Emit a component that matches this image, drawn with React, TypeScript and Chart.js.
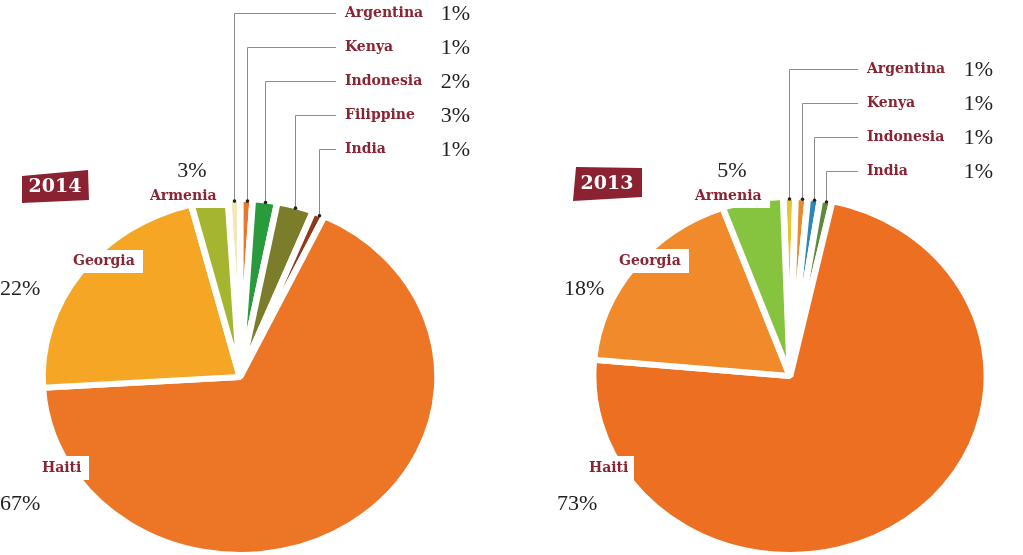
import React, { useEffect, useRef } from 'react';
import { Chart, registerables } from 'chart.js';

Chart.register(...registerables);

// ---------- data ----------
const labels2014 = ['Argentina', 'Kenya', 'Indonesia', 'Filippine', 'India', 'Haiti', 'Georgia', 'Armenia'];
const values2014 = [1, 1, 2, 3, 1, 67, 22, 3];
const colors2014 = ['#f6e6b6', '#e8782c', '#2a9b3c', '#7b7d2a', '#8e3a1c', '#ec7526', '#f5a624', '#a6b52f'];

const labels2013 = ['Argentina', 'Kenya', 'Indonesia', 'India', 'Haiti', 'Georgia', 'Armenia'];
const values2013 = [1, 1, 1, 1, 73, 18, 5];
const colors2013 = ['#e6c62e', '#e98a2e', '#2b88b9', '#5f8a3b', '#ec6f22', '#f18a2b', '#86c440'];

const years = ['2014', '2013'];

// ---------- layout ----------
const W = 1023;
const H = 555;
const NAME_FONT = 'bold 14px "DejaVu Serif"';
const PCT_FONT = '22px "Liberation Serif"';
const NAME_COLOR = '#8a2432';

type Big = {
  index: number;
  nx: number; ny: number;
  box: [number, number, number, number];
  px: number; py: number; pAlign: CanvasTextAlign;
};

type Cfg = {
  left: number; width: number;
  cx: number; cy: number; r: number; sx: number; sy: number; rotation: number;
  labels: string[]; values: number[]; colors: string[]; year: string;
  badge: number[][]; badgeText: [number, number];
  smallCount: number; leaderTop: number; leaderStep: number; leaderEnd: number; nameX: number; pctRight: number;
  big: Big[];
};

const cfg2014: Cfg = {
  left: 0, width: 512,
  cx: 240, cy: 377, r: 178, sx: 1.11, sy: 1.0, rotation: -3.5,
  labels: labels2014, values: values2014, colors: colors2014, year: years[0],
  badge: [[22, 176], [88, 170], [89, 200], [22, 203]], badgeText: [55, 187],
  smallCount: 5, leaderTop: 13, leaderStep: 34, leaderEnd: 336, nameX: 345, pctRight: 470,
  big: [
    { index: 7, nx: 150, ny: 196, box: [146, 184, 230, 208], px: 192, py: 170, pAlign: 'center' },
    { index: 6, nx: 73, ny: 261, box: [69, 250, 143, 273], px: 0, py: 288, pAlign: 'left' },
    { index: 5, nx: 42, ny: 468, box: [38, 456, 89, 480], px: 0, py: 503, pAlign: 'left' },
  ],
};

const cfg2013: Cfg = {
  left: 512, width: 511,
  cx: 790, cy: 376, r: 179, sx: 1.1, sy: 1.0, rotation: -2,
  labels: labels2013, values: values2013, colors: colors2013, year: years[1],
  badge: [[576, 167], [642, 168], [642, 197], [573, 201]], badgeText: [607, 184],
  smallCount: 4, leaderTop: 69, leaderStep: 34, leaderEnd: 858, nameX: 867, pctRight: 993,
  big: [
    { index: 6, nx: 695, ny: 196, box: [690, 184, 770, 208], px: 732, py: 170, pAlign: 'center' },
    { index: 5, nx: 619, ny: 261, box: [614, 249, 689, 273], px: 564, py: 288, pAlign: 'left' },
    { index: 4, nx: 589, ny: 468, box: [584, 456, 634, 480], px: 557, py: 503, pAlign: 'left' },
  ],
};

const shapePlugin = {
  id: 'shape',
  beforeDatasetsDraw(chart: any, _a: any, opts: any) {
    const arc: any = chart.getDatasetMeta(0).data[0];
    const ctx = chart.ctx;
    ctx.save();
    ctx.translate(arc.x, arc.y);
    ctx.scale(opts.sx, opts.sy);
    ctx.translate(-arc.x, -arc.y);
  },
  afterDatasetsDraw(chart: any) {
    chart.ctx.restore();
  },
};

const annPlugin = {
  id: 'ann',
  afterDraw(chart: any, _a: any, opts: any) {
    const c: Cfg = opts.cfg;
    const ctx: CanvasRenderingContext2D = chart.ctx;
    const ox = c.left;
    const meta = chart.getDatasetMeta(0);
    ctx.save();
    ctx.translate(-ox, 0);

    // badge
    ctx.beginPath();
    c.badge.forEach((p, i) => (i === 0 ? ctx.moveTo(p[0], p[1]) : ctx.lineTo(p[0], p[1])));
    ctx.closePath();
    ctx.fillStyle = '#8b2232';
    ctx.fill();
    ctx.fillStyle = '#ffffff';
    ctx.font = 'bold 19px "DejaVu Serif"';
    ctx.textAlign = 'center';
    ctx.textBaseline = 'middle';
    ctx.fillText(c.year, c.badgeText[0], c.badgeText[1]);

    // leaders for small slices
    for (let i = 0; i < c.smallCount; i++) {
      const arc: any = meta.data[i];
      const mid = (arc.startAngle + arc.endAngle) / 2;
      const x = arc.x + ox + c.sx * arc.outerRadius * Math.cos(mid);
      const yEdge = arc.y + c.sy * arc.outerRadius * Math.sin(mid) + 2;
      const lx = Math.round(x) + 0.5;
      const ly = c.leaderTop + i * c.leaderStep;
      ctx.beginPath();
      ctx.moveTo(lx, yEdge);
      ctx.lineTo(lx, ly + 0.5);
      ctx.lineTo(c.leaderEnd, ly + 0.5);
      ctx.strokeStyle = '#8c8c8c';
      ctx.lineWidth = 1;
      ctx.stroke();
      ctx.beginPath();
      ctx.arc(lx, yEdge, 1.8, 0, Math.PI * 2);
      ctx.fillStyle = '#222';
      ctx.fill();

      ctx.font = NAME_FONT;
      ctx.fillStyle = NAME_COLOR;
      ctx.textAlign = 'left';
      ctx.textBaseline = 'middle';
      ctx.fillText(c.labels[i], c.nameX, ly);
      ctx.font = PCT_FONT;
      ctx.fillStyle = '#222';
      ctx.textAlign = 'right';
      ctx.fillText(c.values[i] + '%', c.pctRight, ly + 1);
    }

    // big slice labels
    c.big.forEach((b) => {
      ctx.fillStyle = '#ffffff';
      ctx.fillRect(b.box[0], b.box[1], b.box[2] - b.box[0], b.box[3] - b.box[1]);
      ctx.font = NAME_FONT;
      ctx.fillStyle = NAME_COLOR;
      ctx.textAlign = 'left';
      ctx.textBaseline = 'middle';
      ctx.fillText(c.labels[b.index], b.nx, b.ny);
      ctx.font = PCT_FONT;
      ctx.fillStyle = '#222';
      ctx.textAlign = b.pAlign;
      ctx.fillText(c.values[b.index] + '%', b.px, b.py + 1);
    });
    ctx.restore();
  },
};

function PieCanvas({ cfg }: { cfg: Cfg }) {
  const ref = useRef<HTMLCanvasElement | null>(null);
  useEffect(() => {
    if (!ref.current) return;
    const lcx = cfg.cx - cfg.left;
    const half = cfg.r;
    const chart = new Chart(ref.current, {
      type: 'pie',
      data: {
        labels: cfg.labels,
        datasets: [
          {
            data: cfg.values,
            backgroundColor: cfg.colors,
            borderColor: '#ffffff',
            borderWidth: 6,
          },
        ],
      },
      options: {
        responsive: false,
        animation: false,
        rotation: cfg.rotation,
        radius: cfg.r,
        layout: {
          padding: {
            left: lcx - half,
            right: cfg.width - (lcx + half),
            top: cfg.cy - half,
            bottom: H - (cfg.cy + half),
          },
        },
        plugins: {
          legend: { display: false },
          tooltip: { enabled: false },
          shape: { sx: cfg.sx, sy: cfg.sy },
          ann: { cfg },
        } as any,
      },
      plugins: [shapePlugin, annPlugin],
    });
    return () => chart.destroy();
  }, [cfg]);
  return (
    <canvas
      ref={ref}
      width={cfg.width}
      height={H}
      style={{ position: 'absolute', left: cfg.left, top: 0, width: cfg.width, height: H }}
    />
  );
}

export default function App() {
  return (
    <div style={{ position: 'fixed', left: 0, top: 0, width: W, height: H, background: '#ffffff', overflow: 'hidden' }}>
      <PieCanvas cfg={cfg2014} />
      <PieCanvas cfg={cfg2013} />
    </div>
  );
}
